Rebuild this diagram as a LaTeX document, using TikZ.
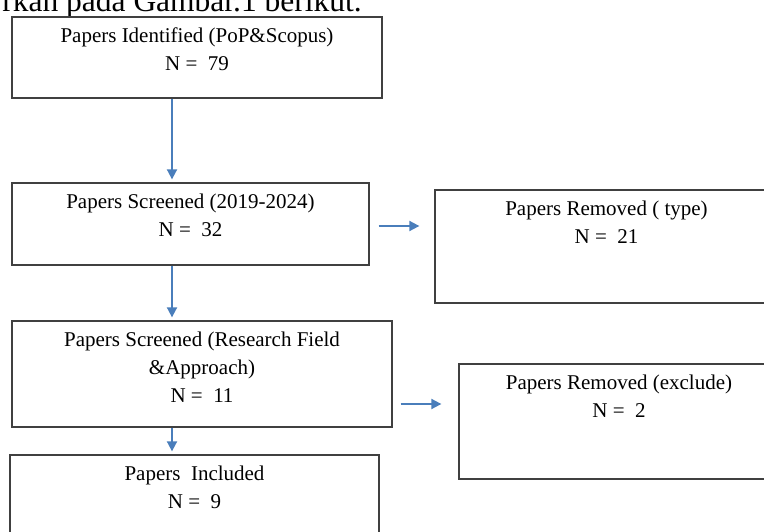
\documentclass[tikz,border=0pt]{standalone}
\usepackage{fontspec}
\setmainfont{Liberation Serif}
\usetikzlibrary{arrows.meta}
\definecolor{arrowblue}{HTML}{4A7EBB}
\definecolor{boxgray}{HTML}{404040}
\tikzset{
  flowbox/.style={draw=boxgray, line width=1.3pt, inner sep=0pt, rectangle},
  boxtext/.style={anchor=north, yshift=-11pt, inner sep=0pt, align=center,
    font=\fontsize{21}{28}\selectfont},
  flowarrow/.style={draw=arrowblue, line width=1.8pt,
    -{Triangle[length=10pt,width=10pt]}}
}
\begin{document}
\begin{tikzpicture}[x=1pt,y=-1pt]
\useasboundingbox (0,0) rectangle (764,532);
\clip (0,0) rectangle (764,532);
\fill[white] (0,0) rectangle (764,532);

\node[anchor=base east, inner sep=0pt, font=\fontsize{31.5}{36}\selectfont] (intro) at (362,11.5) {rkan pada Gambar.1 berikut.};

\node[flowbox, minimum width=370pt, minimum height=81pt,
  label={[boxtext]north:Papers Identified (PoP\&Scopus)\\N =\ \ 79}] (b1) at (197,57.5) {};
\node[flowbox, minimum width=357pt, minimum height=82pt,
  label={[boxtext]north:Papers Screened (2019-2024)\\N =\ \ 32}] (b2) at (190.5,224) {};
\node[flowbox, minimum width=343pt, minimum height=113pt,
  label={[boxtext]north:Papers Removed ( type)\\N =\ \ 21}] (b3) at (606.5,246.5) {};
\node[flowbox, minimum width=380pt, minimum height=106pt,
  label={[boxtext]north:Papers Screened (Research Field\\\&Approach)\\N =\ \ 11}] (b4) at (202,374) {};
\node[flowbox, minimum width=320pt, minimum height=115pt,
  label={[boxtext]north:Papers Removed (exclude)\\N =\ \ 2}] (b5) at (619,421.5) {};
\node[flowbox, minimum width=369pt, minimum height=100pt,
  label={[boxtext]north:Papers\ \ Included\\N =\ \ 9}] (b6) at (194.5,505) {};

\coordinate (col) at (172,0);
\draw[flowarrow, shorten >=3pt] (b1.south -| col) -- (b2.north -| col);
\draw[flowarrow, shorten >=3pt] (b2.south -| col) -- (b4.north -| col);
\draw[flowarrow, shorten >=3pt] (b4.south -| col) -- (b6.north -| col);

\coordinate (r1) at ([shift={(9pt,-2pt)}]b2.east);
\draw[flowarrow, shorten >=15pt] (r1) -- (b3.west |- r1);
\coordinate (r2) at ([shift={(8pt,-30pt)}]b4.east);
\draw[flowarrow, shorten >=17pt] (r2) -- (b5.west |- r2);
\end{tikzpicture}
\end{document}
